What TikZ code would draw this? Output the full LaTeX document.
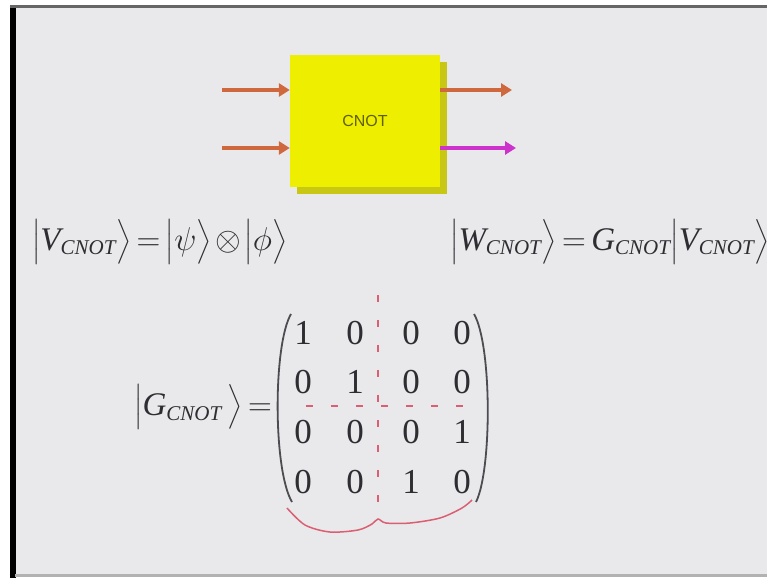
\RequirePackage{fix-cm}
\documentclass[tikz,border=0pt]{standalone}
\usepackage{amsmath}
\usepackage{fontspec}
\setmainfont{Liberation Serif}
\setsansfont{Liberation Sans}
\usetikzlibrary{arrows.meta}
\definecolor{bggray}{RGB}{233,233,235}
\definecolor{boxyellow}{RGB}{238,238,0}
\definecolor{boxshade}{RGB}{200,200,20}
\definecolor{arrorange}{RGB}{208,104,62}
\definecolor{arrmag}{RGB}{205,50,205}
\definecolor{penred}{RGB}{218,95,115}
\definecolor{txtgray}{RGB}{45,45,50}
\definecolor{labolive}{RGB}{95,95,10}
\newcommand{\kbra}{\mathopen{\bigl|}}
\newcommand{\kket}{\mathclose{\bigr\rangle}}
\newcommand{\tightsp}{\thickmuskip=3mu\relax\medmuskip=2mu\relax}
\newcommand{\sbc}{_{\text{\fontsize{21}{22}\selectfont\itshape CNOT}}}
\tikzset{
  gatebox/.style={fill=boxyellow, minimum width=150pt, minimum height=132pt, inner sep=0pt,
    font=\sffamily\fontsize{16}{19}\selectfont, text=labolive},
  inarrow/.style={draw=arrorange, line width=4.5pt, -{Triangle[length=11pt,width=13pt]}},
  magarrow/.style={draw=arrmag, line width=4.5pt, -{Triangle[length=11pt,width=13pt]}},
  eqtext/.style={inner sep=0pt, text=txtgray, font=\fontsize{33}{40}\selectfont},
  entry/.style={inner sep=0pt, text=txtgray, font=\fontsize{35}{42}\selectfont},
  paren/.style={draw=txtgray!85, line width=1.8pt},
  pendash/.style={draw=penred, line width=1.3pt, dash pattern=on 7pt off 18pt},
  penline/.style={draw=penred, line width=1.5pt}
}
\begin{document}
\begin{tikzpicture}[x=1pt,y=-1pt]
\useasboundingbox (0,0) rectangle (767,578);
\fill[white] (0,0) rectangle (767,578);
\fill[bggray] (15,8) rectangle (767,575);
\fill[black] (10,6) rectangle (16,578);
\fill[gray!80!black] (10,5.5) rectangle (767,8.5);
\fill[gray!60] (15,574) rectangle (767,576.5);

% gate
\fill[boxshade] (297,62) rectangle (447,194);
\node[gatebox] (cnot) at (365,121) {CNOT};
\coordinate (i1) at (222,90);
\coordinate (i2) at (222,148);
\coordinate (o1) at (512,90);
\coordinate (o2) at (516,148);
\draw[inarrow] (i1) -- (i1 -| cnot.west);
\draw[inarrow] (i2) -- (i2 -| cnot.west);
\draw[inarrow] (cnot.east |- o1) -- (o1);
\draw[magarrow] (cnot.east |- o2) -- (o2);

% equations
\node[eqtext, anchor=base west] (veq) at (32,250)
  {$\tightsp\kbra\mathit{V}\sbc\kket = \kbra\psi\kket \otimes \kbra\phi\kket$};
\node[eqtext, anchor=base west] (weq) at (450,250)
  {$\tightsp\kbra\mathit{W}\sbc\kket = \mathit{G}\sbc\kbra\mathit{V}\sbc\kket$};
\node[eqtext, anchor=east] (geq) at (272,407)
  {$\tightsp\kbra\mathit{G}\sbc\;\kket =$};

% matrix entries
\foreach \r/\y/\a/\b/\c/\d in {1/333/1/0/0/0, 2/382/0/1/0/0, 3/432/0/0/0/1, 4/482/0/0/1/0}{
  \node[entry] (m\r1) at (303,\y) {\a};
  \node[entry] (m\r2) at (355,\y) {\b};
  \node[entry] (m\r3) at (411,\y) {\c};
  \node[entry] (m\r4) at (462,\y) {\d};
}
\draw[paren] (291,314) .. controls (273,345) and (273,470) .. (292,502);
\draw[paren] (474,314) .. controls (492,345) and (492,470) .. (476,502);

% red pen marks
\draw[pendash] (378,295) -- (378,510);
\draw[pendash] (306,406) -- (476,406);
\draw[penline] plot[smooth] coordinates {(287,508) (305,525) (330,532) (358,530) (372,524) (378,519) (386,523) (410,523) (440,518) (462,508) (472,500)};
\end{tikzpicture}
\end{document}
